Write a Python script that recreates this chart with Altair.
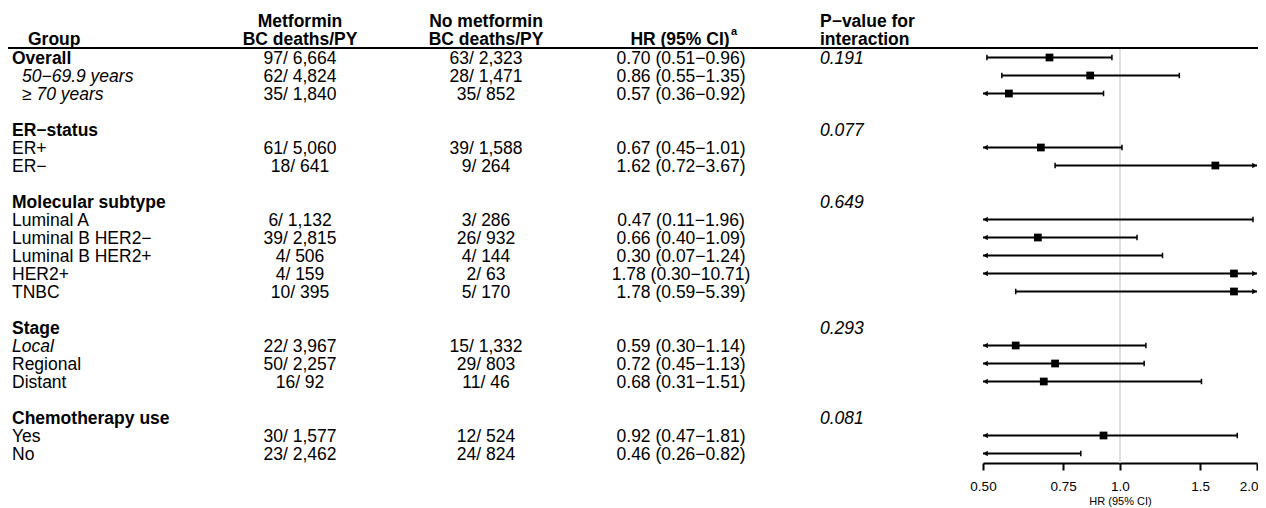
import altair as alt
import pandas as pd

# ---------------- data ----------------
group = ["Overall", "50−69.9 years", "≥ 70 years", "",
         "ER−status", "ER+", "ER−", "",
         "Molecular subtype", "Luminal A", "Luminal B HER2−", "Luminal B HER2+", "HER2+", "TNBC", "",
         "Stage", "Local", "Regional", "Distant", "",
         "Chemotherapy use", "Yes", "No"]
style = ["bold", "sub", "sub", "",
         "bold", "plain", "plain", "",
         "bold", "plain", "plain", "plain", "plain", "plain", "",
         "bold", "italic", "plain", "plain", "",
         "bold", "plain", "plain"]
met = ["97/ 6,664", "62/ 4,824", "35/ 1,840", "",
       "", "61/ 5,060", "18/ 641", "",
       "", "6/ 1,132", "39/ 2,815", "4/ 506", "4/ 159", "10/ 395", "",
       "", "22/ 3,967", "50/ 2,257", "16/ 92", "",
       "", "30/ 1,577", "23/ 2,462"]
nomet = ["63/ 2,323", "28/ 1,471", "35/ 852", "",
         "", "39/ 1,588", "9/ 264", "",
         "", "3/ 286", "26/ 932", "4/ 144", "2/ 63", "5/ 170", "",
         "", "15/ 1,332", "29/ 803", "11/ 46", "",
         "", "12/ 524", "24/ 824"]
hr = [0.70, 0.86, 0.57, None,
      None, 0.67, 1.62, None,
      None, 0.47, 0.66, 0.30, 1.78, 1.78, None,
      None, 0.59, 0.72, 0.68, None,
      None, 0.92, 0.46]
lo = [0.51, 0.55, 0.36, None,
      None, 0.45, 0.72, None,
      None, 0.11, 0.40, 0.07, 0.30, 0.59, None,
      None, 0.30, 0.45, 0.31, None,
      None, 0.47, 0.26]
hi = [0.96, 1.35, 0.92, None,
      None, 1.01, 3.67, None,
      None, 1.96, 1.09, 1.24, 10.71, 5.39, None,
      None, 1.14, 1.13, 1.51, None,
      None, 1.81, 0.82]
pval = ["0.191", "", "", "",
        "0.077", "", "", "",
        "0.649", "", "", "", "", "", "",
        "0.293", "", "", "", "",
        "0.081", "", ""]

tick_vals = [0.5, 0.75, 1.0, 1.5, 2.0]
tick_labels = ["0.50", "0.75", "1.0", "1.5", "2.0"]
x_min, x_max = 0.5, 2.0

# ---------------- table ----------------
df = pd.DataFrame({"row": list(range(len(group))), "group": group, "style": style,
                   "met": met, "nomet": nomet, "hr": hr, "lo": lo, "hi": hi, "pval": pval})
df["hrtxt"] = [
    (f"{h:.2f} ({l:.2f}−{u:.2f})" if pd.notna(h) else "")
    for h, l, u in zip(df.hr, df.lo, df.hi)
]
df["x1"] = df["lo"].clip(lower=x_min)
df["x2"] = df["hi"].clip(upper=x_max)

F = "Liberation Sans"
FS = 17.5
W, H = 1250, 455

Y = alt.Y("row:Q", scale=alt.Scale(domain=[-2.75, 22.528], range=[0, H], zero=False, nice=False), axis=None)
XS = alt.Scale(type="log", domain=[x_min, x_max], range=[975, 1249], nice=False)
label_expr = " : ".join(f"abs(datum.value - {v}) < 1e-6 ? '{l}'" for v, l in zip(tick_vals, tick_labels)) + " : ''"
AX = alt.Axis(values=tick_vals, labelExpr=label_expr, title="HR (95% CI)", grid=False,
              domainColor="black", domainWidth=2, tickColor="black", tickWidth=2, tickSize=7,
              labelFont=F, labelFontSize=13.5, labelColor="black", labelPadding=9,
              labelAlign={"condition": {"test": f"datum.value >= {x_max} - 1e-6", "value": "right"}, "value": "center"},
              labelOffset={"condition": {"test": f"datum.value >= {x_max} - 1e-6", "value": 1}, "value": 0},
              labelFlush=False, labelOverlap=False,
              titleFont=F, titleFontSize=11, titleFontWeight="normal", titleColor="black", titlePadding=3)

base = alt.Chart(df)
one = pd.DataFrame({"k": [0]})


def txt(field, x, align, weight="normal", fstyle="normal", flt=None):
    c = base.mark_text(align=align, baseline="middle", font=F, fontSize=FS, fontWeight=weight,
                       fontStyle=fstyle, dy=1.5, color="black").encode(
        x=alt.value(x), y=Y, text=f"{field}:N")
    if flt:
        c = c.transform_filter(flt)
    return c


def hdr(text, x, y, align, size=FS, weight="bold"):
    return alt.Chart(one).mark_text(text=text, align=align, baseline="middle", font=F, fontSize=size,
                                    fontWeight=weight, color="black").encode(x=alt.value(x), y=alt.value(y))


layers = [
    # header
    hdr("Group", 20, 32, "left"),
    hdr("Metformin", 292, 14, "center"),
    hdr("BC deaths/PY", 292, 32, "center"),
    hdr("No metformin", 478, 14, "center"),
    hdr("BC deaths/PY", 478, 32, "center"),
    hdr("HR (95% CI)", 672, 32, "center"),
    hdr("a", 726, 24, "center", size=11),
    hdr("P−value for", 812, 14, "left"),
    hdr("interaction", 812, 32, "left"),
    alt.Chart(one).mark_rule(color="black", strokeWidth=2).encode(
        x=alt.value(0), x2=alt.value(W), y=alt.value(40)),
    # reference line
    alt.Chart(pd.DataFrame({"ref": [1.0]})).mark_rule(color="#d4d4d4", strokeWidth=1.5).encode(
        x=alt.X("ref:Q", scale=XS, axis=AX), y=alt.value(41), y2=alt.value(H)),
    # text columns
    txt("group", 4, "left", weight="bold", flt="datum.style == 'bold'"),
    txt("group", 14, "left", fstyle="italic", flt="datum.style == 'sub'"),
    txt("group", 4, "left", fstyle="italic", flt="datum.style == 'italic'"),
    txt("group", 4, "left", flt="datum.style == 'plain'"),
    txt("met", 292, "center"),
    txt("nomet", 478, "center"),
    txt("hrtxt", 673, "center"),
    txt("pval", 812, "left", fstyle="italic"),
    # forest
    base.mark_rule(color="black", strokeWidth=2).encode(
        x=alt.X("x1:Q", scale=XS, axis=AX), x2="x2:Q", y=Y).transform_filter("isValid(datum.hr)"),
    base.mark_point(shape="M0,-1L0,1", filled=False, size=30, strokeWidth=1.5, color="black", opacity=1).encode(
        x=alt.X("lo:Q", scale=XS, axis=AX), y=Y).transform_filter(f"isValid(datum.lo) && datum.lo >= {x_min}"),
    base.mark_point(shape="M0,-1L0,1", filled=False, size=30, strokeWidth=1.5, color="black", opacity=1).encode(
        x=alt.X("hi:Q", scale=XS, axis=AX), y=Y).transform_filter(f"isValid(datum.hi) && datum.hi <= {x_max}"),
    base.mark_point(shape="triangle-left", filled=True, size=28, xOffset=2.5, color="black", opacity=1).encode(
        x=alt.X("x1:Q", scale=XS, axis=AX), y=Y).transform_filter(f"isValid(datum.lo) && datum.lo < {x_min}"),
    base.mark_point(shape="triangle-right", filled=True, size=28, xOffset=-2.5, color="black", opacity=1).encode(
        x=alt.X("x2:Q", scale=XS, axis=AX), y=Y).transform_filter(f"isValid(datum.hi) && datum.hi > {x_max}"),
    base.mark_point(shape="square", filled=True, size=60, color="black", opacity=1).encode(
        x=alt.X("hr:Q", scale=XS, axis=AX), y=Y).transform_filter(
        f"isValid(datum.hr) && datum.hr >= {x_min} && datum.hr <= {x_max}"),
]

chart = alt.layer(*layers).properties(
    width=W, height=H,
    autosize=alt.AutoSizeParams(type="none"),
    padding={"left": 0, "right": 0, "top": 0, "bottom": 45},
    background="white",
).configure_view(strokeWidth=0)

chart.save("out.html", embed_options={"renderer": "svg", "actions": False})
